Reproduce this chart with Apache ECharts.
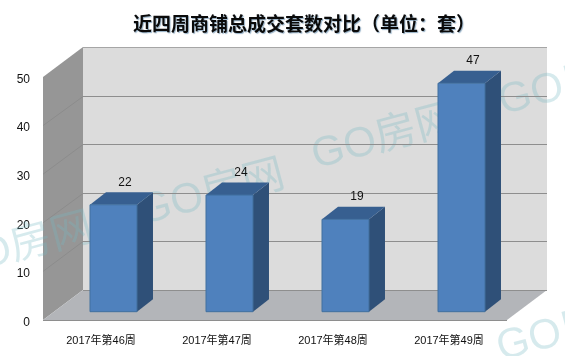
<!DOCTYPE html>
<html>
<head>
<meta charset="utf-8">
<title>近四周商铺总成交套数对比</title>
<style>
html, body { margin: 0; padding: 0; background: #fff; }
#main { width: 565px; height: 356px; }
</style>
<script src="https://cdn.jsdelivr.net/npm/echarts@6/dist/echarts.min.js"></script>
</head>
<body>
<div id="main"></div>
<script>
var titleText = '近四周商铺总成交套数对比（单位：套）';
var weeks = ['2017年第46周', '2017年第47周', '2017年第48周', '2017年第49周'];
var deals = [22, 24, 19, 47];
var yTicks = [0, 10, 20, 30, 40, 50];
var watermarks = [[20, 247], [212, 194], [385, 138], [572, 84], [570, 330]];

var font = '"Liberation Sans", "Noto Sans CJK SC", sans-serif';
// fake 3d: how far the back wall sits from the front plane
var wallDx = 40, wallDy = -30;
// bars stand a bit inside the floor, and have their own depth
var barDx = 12.5, barDy = -8.3, barSideDx = 16, barSideDy = -12.5;

function crisp(v) {
    return Math.round(v) + 0.5;
}

function renderWalls(params, api) {
    var c = params.coordSys;
    var l = c.x, r = c.x + c.width, t = c.y, b = c.y + c.height;
    return {
        type: 'group',
        children: [
            { type: 'polygon', shape: { points: [[l + wallDx, t + wallDy], [r + wallDx, t + wallDy], [r + wallDx, b + wallDy], [l + wallDx, b + wallDy]] }, style: { fill: '#dcdcdc' } },
            { type: 'polygon', shape: { points: [[l, t], [l + wallDx, t + wallDy], [l + wallDx, b + wallDy], [l, b]] }, style: { fill: '#969696' } },
            { type: 'polygon', shape: { points: [[l, b], [l + wallDx, b + wallDy], [r + wallDx, b + wallDy], [r, b]] }, style: { fill: '#b3b5b9' } },
            { type: 'line', shape: { x1: l, y1: crisp(b), x2: r, y2: crisp(b) }, style: { stroke: '#8e8e8e', lineWidth: 1 } },
            { type: 'line', shape: { x1: l + wallDx, y1: crisp(b + wallDy), x2: r + wallDx, y2: crisp(b + wallDy) }, style: { stroke: '#8e8e8e', lineWidth: 1 } },
            { type: 'line', shape: { x1: l + wallDx, y1: crisp(t + wallDy), x2: r + wallDx, y2: crisp(t + wallDy) }, style: { stroke: '#a6a6a6', lineWidth: 1 } }
        ]
    };
}

function renderGridLine(params, api) {
    var c = params.coordSys;
    var y = api.coord([0, api.value(1)])[1];
    var backY = crisp(y + wallDy);
    return {
        type: 'group',
        children: [
            { type: 'line', shape: { x1: c.x, y1: y, x2: c.x + wallDx, y2: backY }, style: { stroke: '#8c8c8c', lineWidth: 1 } },
            { type: 'line', shape: { x1: c.x + wallDx, y1: backY, x2: c.x + c.width + wallDx, y2: backY }, style: { stroke: '#8e8e8e', lineWidth: 1 } }
        ]
    };
}

function renderBar(params, api) {
    var cat = api.value(0), val = api.value(1);
    var top = api.coord([cat, val]);
    var base = api.coord([cat, 0]);
    var w = api.size([1, 0])[0] * 0.405;
    var x0 = top[0] + barDx - w / 2, x1 = x0 + w;
    var y0 = top[1] + barDy, y1 = base[1] + barDy;
    return {
        type: 'group',
        children: [
            { type: 'polygon', shape: { points: [[x1, y0], [x1 + barSideDx, y0 + barSideDy], [x1 + barSideDx, y1 + barSideDy], [x1, y1]] }, style: { fill: '#2f5078' } },
            { type: 'polygon', shape: { points: [[x0, y0], [x0 + barSideDx, y0 + barSideDy], [x1 + barSideDx, y0 + barSideDy], [x1, y0]] }, style: { fill: '#375f90' } },
            { type: 'rect', shape: { x: x0, y: y0, width: w, height: y1 - y0 }, style: { fill: '#4f81bd', stroke: '#41709f', lineWidth: 1 } },
            { type: 'text', style: { x: top[0] + 24, y: y0 - 22.5, text: String(val), align: 'center', verticalAlign: 'middle', font: '12px ' + font, fill: '#111' } }
        ]
    };
}

var myChart = echarts.init(document.getElementById('main'));
var option = {
    animation: false,
    title: {
        text: titleText,
        left: 128,
        top: 9,
        textStyle: {
            fontFamily: '"Noto Sans CJK SC", sans-serif',
            fontSize: 19,
            fontWeight: 'bold',
            color: '#0a0a0a',
            textShadowColor: 'rgba(60,110,150,0.55)',
            textShadowBlur: 1,
            textShadowOffsetX: 1,
            textShadowOffsetY: 1
        }
    },
    graphic: watermarks.map(function (p) {
        return {
            type: 'text',
            x: p[0],
            y: p[1],
            rotation: 15 * Math.PI / 180,
            z: 2,
            style: {
                text: 'GO房网',
                align: 'center',
                verticalAlign: 'middle',
                font: '42px "Liberation Sans", "Noto Sans CJK SC", sans-serif',
                fill: 'rgba(120,185,195,0.3)'
            }
        };
    }),
    grid: { left: 43, right: 58, top: 77, bottom: 36 },
    xAxis: {
        type: 'category',
        data: weeks,
        axisLine: { show: false },
        axisTick: { show: false },
        axisLabel: { fontFamily: font, fontSize: 11, color: '#111', margin: 15 }
    },
    yAxis: {
        type: 'value',
        min: yTicks[0],
        max: yTicks[yTicks.length - 1],
        interval: 10,
        axisLine: { show: false },
        axisTick: { show: false },
        splitLine: { show: false },
        axisLabel: { fontFamily: font, fontSize: 12, color: '#111', margin: 13, verticalAlign: 'top', lineHeight: 5 }
    },
    series: [
        { type: 'custom', z: 1, silent: true, renderItem: renderWalls, data: [[0, 0]] },
        { type: 'custom', z: 3, silent: true, renderItem: renderGridLine, data: yTicks.slice(1, -1).map(function (v) { return [0, v]; }) },
        { type: 'custom', z: 4, renderItem: renderBar, data: deals.map(function (v, i) { return [i, v]; }) }
    ]
};
myChart.setOption(option);
</script>
</body>
</html>
